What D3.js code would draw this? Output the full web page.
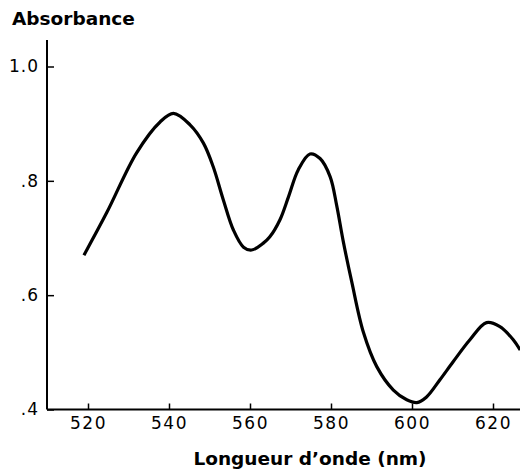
<!DOCTYPE html>
<html><head><meta charset="utf-8">
<script src="https://cdn.jsdelivr.net/npm/d3@7"></script>
<style>
html,body{margin:0;padding:0;background:#fff;}
svg{display:block;}
</style></head>
<body>
<svg id="chart" width="520" height="474"></svg>
<script>
// ---- data ----
const wavelengths = [519.0, 524.6, 532.0, 537.8, 541.1, 545.2, 548.5, 550.9, 553.4, 555.9, 558.4, 560.4, 563.3, 564.9, 567.4, 569.5, 571.9, 574.8, 577.3, 579.8, 581.4, 583.0, 585.1, 588.0, 591.3, 595.4, 598.7, 601.2, 603.6, 606.9, 610.2, 614.3, 618.4, 621.7, 625.0, 626.7];
const absorbance  = [0.670, 0.744, 0.849, 0.903, 0.918, 0.898, 0.866, 0.825, 0.767, 0.714, 0.684, 0.679, 0.691, 0.702, 0.732, 0.772, 0.819, 0.847, 0.839, 0.807, 0.757, 0.695, 0.624, 0.535, 0.475, 0.434, 0.417, 0.412, 0.422, 0.452, 0.484, 0.522, 0.552, 0.545, 0.522, 0.504];
const xTickValues = [520, 540, 560, 580, 600, 620];
const xTickLabels = ["520", "540", "560", "580", "600", "620"];
const yTickValues = [0.4, 0.6, 0.8, 1.0];
const yTickLabels = [".4", ".6", ".8", "1.0"];
const yTitle = "Absorbance";
const xTitle = "Longueur d\u2019onde (nm)";

const svg = d3.select("#chart");
const font = "'DejaVu Sans', sans-serif";

const x = d3.scaleLinear().domain([520, 620]).range([88, 493]);
const y = d3.scaleLinear().domain([0.4, 1.0]).range([409.5, 66.5]);
const axisX0 = 47;

// axis lines
svg.append("line").attr("x1", axisX0).attr("x2", axisX0).attr("y1", 40).attr("y2", y(0.4))
  .attr("stroke", "#000").attr("stroke-width", 2);
svg.append("line").attr("x1", axisX0).attr("x2", 520).attr("y1", y(0.4)).attr("y2", y(0.4))
  .attr("stroke", "#000").attr("stroke-width", 2);

// y axis
const yAxis = d3.axisLeft(y).tickValues(yTickValues)
  .tickFormat((d, i) => yTickLabels[i]).tickSizeInner(-7).tickSizeOuter(0).tickPadding(8);
const gy = svg.append("g").attr("transform", `translate(${axisX0},0)`).call(yAxis);
gy.select(".domain").remove();
gy.selectAll(".tick line").attr("stroke", "#000").attr("stroke-width", 1.5);
gy.selectAll(".tick text").attr("font-family", font).attr("font-size", 17)
  .attr("letter-spacing", 1).attr("fill", "#000");

// x axis
const xAxis = d3.axisBottom(x).tickValues(xTickValues)
  .tickFormat((d, i) => xTickLabels[i]).tickSizeInner(-6).tickSizeOuter(0).tickPadding(7);
const gx = svg.append("g").attr("transform", `translate(0,${y(0.4)})`).call(xAxis);
gx.select(".domain").remove();
gx.selectAll(".tick line").attr("stroke", "#000").attr("stroke-width", 1.5);
gx.selectAll(".tick text").attr("font-family", font).attr("font-size", 17)
  .attr("letter-spacing", 1.5).attr("fill", "#000");

// curve
const pts = wavelengths.map((w, i) => [w, absorbance[i]]);
const line = d3.line().x(d => x(d[0])).y(d => y(d[1])).curve(d3.curveCatmullRom.alpha(0.5));
svg.append("path").datum(pts).attr("d", line)
  .attr("fill", "none").attr("stroke", "#000").attr("stroke-width", 3.2)
  .attr("stroke-linejoin", "round");

// titles
svg.append("text").attr("x", 12).attr("y", 25).text(yTitle)
  .attr("font-family", font).attr("font-weight", "bold").attr("font-size", 18.5).attr("fill", "#000");
svg.append("text").attr("x", 310).attr("y", 465).attr("text-anchor", "middle").text(xTitle)
  .attr("font-family", font).attr("font-weight", "bold").attr("font-size", 18.5).attr("fill", "#000");
</script>
</body></html>
